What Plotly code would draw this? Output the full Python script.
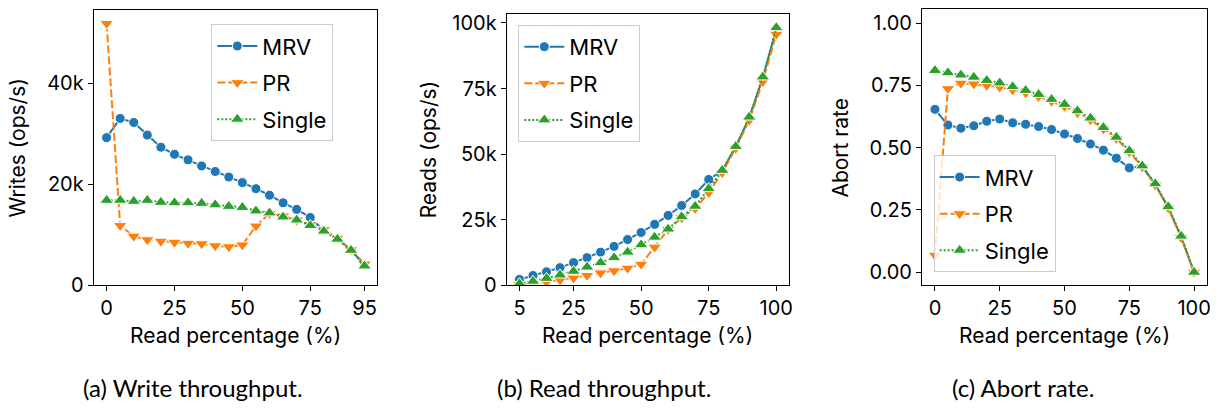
import plotly.graph_objects as go

# ---- data -------------------------------------------------------------
# (a) write throughput, read percentage 0..95
read_pct_a = [0, 5, 10, 15, 20, 25, 30, 35, 40, 45, 50, 55, 60, 65, 70, 75, 80, 85, 90, 95]
writes_mrv = [29200, 33000, 32200, 29700, 27300, 25900, 24800, 23600, 22500, 21400,
              20300, 19100, 17800, 16300, 15000, 13400, 10800, 9200, 7000, 4000]
writes_pr = [51800, 11800, 9700, 9000, 8700, 8500, 8300, 8200, 7800, 7600,
             7960, 11700, 14200, 13700, 12900, 12000, 11000, 9300, 7000, 4200]
writes_single = [16800, 16800, 16600, 16800, 16400, 16300, 16300, 16200, 15900, 15600,
                 15400, 14700, 14300, 13500, 12900, 11800, 10700, 9100, 6900, 3800]

# (b) read throughput, read percentage 5..100
read_pct_b = [5, 10, 15, 20, 25, 30, 35, 40, 45, 50, 55, 60, 65, 70, 75, 80, 85, 90, 95, 100]
reads_mrv = [2200, 3700, 5100, 6700, 8600, 10500, 12600, 14800, 17400, 20100,
             23200, 26600, 30400, 34800, 40300, 43600, 52800, 63800, 79000, 97500]
reads_pr = [200, 500, 1200, 2000, 2700, 3700, 4700, 5500, 6500, 8000,
            14500, 21200, 25700, 29200, 35300, 42900, 52200, 62900, 77600, 95700]
reads_single = [600, 1500, 2600, 3900, 5300, 6900, 8600, 10500, 12600, 15400,
                18300, 21400, 26100, 30100, 36800, 43800, 52900, 64100, 79400, 98200]

# (c) abort rate, read percentage 0..100
read_pct_c = [0, 5, 10, 15, 20, 25, 30, 35, 40, 45, 50, 55, 60, 65, 70, 75, 80, 85, 90, 95, 100]
abort_mrv = [0.654, 0.591, 0.578, 0.588, 0.606, 0.615, 0.600, 0.594, 0.585, 0.573,
             0.555, 0.537, 0.515, 0.490, 0.458, 0.419, 0.425, 0.352, 0.260, 0.142, 0.0]
abort_pr = [0.068, 0.737, 0.759, 0.756, 0.750, 0.743, 0.732, 0.720, 0.705, 0.686,
            0.666, 0.640, 0.612, 0.575, 0.537, 0.483, 0.423, 0.350, 0.258, 0.139, 0.0]
abort_single = [0.810, 0.801, 0.792, 0.783, 0.770, 0.760, 0.745, 0.730, 0.714, 0.694,
                0.674, 0.648, 0.619, 0.581, 0.542, 0.488, 0.427, 0.355, 0.263, 0.145, 0.0]

series_names = ["MRV", "PR", "Single"]
mrv_marker_last = 75  # MRV markers shown up to this read percentage

# ---- styling ----------------------------------------------------------
COLORS = ["#1f77b4", "#ff7f0e", "#2ca02c"]
SYMBOLS = ["circle", "triangle-down", "triangle-up"]
MARKER_SIZES = [10, 12, 12]
DASHES = ["solid", "8px,3px", "2px,2px"]
FONT = "Inter, 'DejaVu Sans', sans-serif"
CAPTION_FONT = "Lato, 'DejaVu Sans', sans-serif"

W, H = 1227, 418


def px_x(v):
    return v / W


def px_y(v):
    return (H - v) / H


fig = go.Figure()

panels = [
    (read_pct_a, [writes_mrv, writes_pr, writes_single]),
    (read_pct_b, [reads_mrv, reads_pr, reads_single]),
    (read_pct_c, [abort_mrv, abort_pr, abort_single]),
]

for p, (xs, ys_list) in enumerate(panels):
    axn = "" if p == 0 else str(p + 1)
    legend_id = "legend" if p == 0 else f"legend{p + 1}"
    for s, ys in enumerate(ys_list):
        line = dict(color=COLORS[s], width=2, dash=DASHES[s])
        marker = dict(symbol=SYMBOLS[s], size=MARKER_SIZES[s], color=COLORS[s],
                      line=dict(color="white", width=1))
        if s == 0:
            # MRV: marked points up to 75 %, plain line continuing beyond
            k = max(i for i, x in enumerate(xs) if x <= mrv_marker_last)
            fig.add_trace(go.Scatter(
                x=xs[k:], y=ys[k:], mode="lines", showlegend=False,
                xaxis="x" + axn, yaxis="y" + axn, line=line, hoverinfo="skip"))
            fig.add_trace(go.Scatter(
                x=xs[:k + 1], y=ys[:k + 1], name=series_names[s], mode="lines+markers",
                xaxis="x" + axn, yaxis="y" + axn, legend=legend_id,
                legendgroup=f"{p}-{s}", line=line, marker=marker))
        else:
            fig.add_trace(go.Scatter(
                x=xs, y=ys, name=series_names[s], mode="lines+markers",
                xaxis="x" + axn, yaxis="y" + axn, legend=legend_id,
                legendgroup=f"{p}-{s}", line=line, marker=marker))

# axis frames (pixel positions of the plotting boxes)
frames = [
    dict(x0=94, x1=378.7, y0=7.3, y1=292.7),
    dict(x0=508.3, x1=791.7, y0=11.7, y1=292.7),
    dict(x0=925, x1=1211, y0=6.7, y1=292.7),
]
x_ranges = [[-4.75, 99.75], [0.25, 104.75], [-5, 105]]
x_ticks = [[0, 25, 50, 75, 95], [5, 25, 50, 75, 100], [0, 25, 50, 75, 100]]
y_ranges = [[0, 54450], [0, 103300], [-0.052, 1.055]]
y_tickvals = [[0, 20000, 40000], [0, 25000, 50000, 75000, 100000],
              [0, 0.25, 0.5, 0.75, 1.0]]
y_ticktext = [["0", "20k", "40k"], ["0", "25k", "50k", "75k", "100k"],
              ["0.00", "0.25", "0.50", "0.75", "1.00"]]

common = dict(showline=True, linecolor="black", linewidth=1, mirror=True,
              ticks="outside", ticklen=5, tickwidth=1, tickcolor="black",
              showgrid=False, zeroline=False,
              tickfont=dict(family=FONT, size=20, color="black"))

layout = {}
for p, fr in enumerate(frames):
    axn = "" if p == 0 else str(p + 1)
    layout["xaxis" + axn] = dict(
        domain=[px_x(fr["x0"]), px_x(fr["x1"])], range=x_ranges[p],
        tickvals=x_ticks[p], anchor="y" + axn, **common)
    layout["yaxis" + axn] = dict(
        domain=[px_y(fr["y1"]), px_y(fr["y0"])], range=y_ranges[p],
        tickvals=y_tickvals[p], ticktext=y_ticktext[p], anchor="x" + axn, **common)

legend_common = dict(
    bgcolor="rgba(255,255,255,0.8)", bordercolor="#cccccc", borderwidth=1,
    font=dict(family=FONT, size=22, color="black"),
    xanchor="left", yanchor="top", tracegroupgap=5, itemwidth=40,
)
layout["legend"] = dict(x=px_x(212), y=px_y(22), **legend_common)
layout["legend2"] = dict(x=px_x(520), y=px_y(22.7), **legend_common)
layout["legend3"] = dict(x=px_x(936.7), y=px_y(279.3), **dict(legend_common, yanchor="bottom"))

annotations = []
y_titles = ["Writes (ops/s)", "Reads (ops/s)", "Abort rate"]
y_title_x = [18, 430, 843]
captions = ["(a) Write throughput.", "(b) Read throughput.", "(c) Abort rate."]
caption_x = [194, 606, 1026]
for p, fr in enumerate(frames):
    annotations.append(dict(
        text="Read percentage (%)", x=px_x((fr["x0"] + fr["x1"]) / 2), y=px_y(345),
        xref="paper", yref="paper", showarrow=False, xanchor="center", yanchor="middle",
        font=dict(family=FONT, size=21, color="black")))
    annotations.append(dict(
        text=y_titles[p], x=px_x(y_title_x[p]), y=px_y((fr["y0"] + fr["y1"]) / 2),
        xref="paper", yref="paper", showarrow=False, textangle=-90,
        xanchor="center", yanchor="middle",
        font=dict(family=FONT, size=21, color="black")))
    annotations.append(dict(
        text=captions[p], x=px_x(caption_x[p]), y=px_y(399),
        xref="paper", yref="paper", showarrow=False, xanchor="center", yanchor="middle",
        font=dict(family=CAPTION_FONT, size=24, color="black")))

fig.update_layout(
    width=W, height=H, margin=dict(l=0, r=0, t=0, b=0), autosize=False,
    paper_bgcolor="white", plot_bgcolor="white",
    showlegend=True, annotations=annotations, **layout,
)

fig.write_html("out.html")
